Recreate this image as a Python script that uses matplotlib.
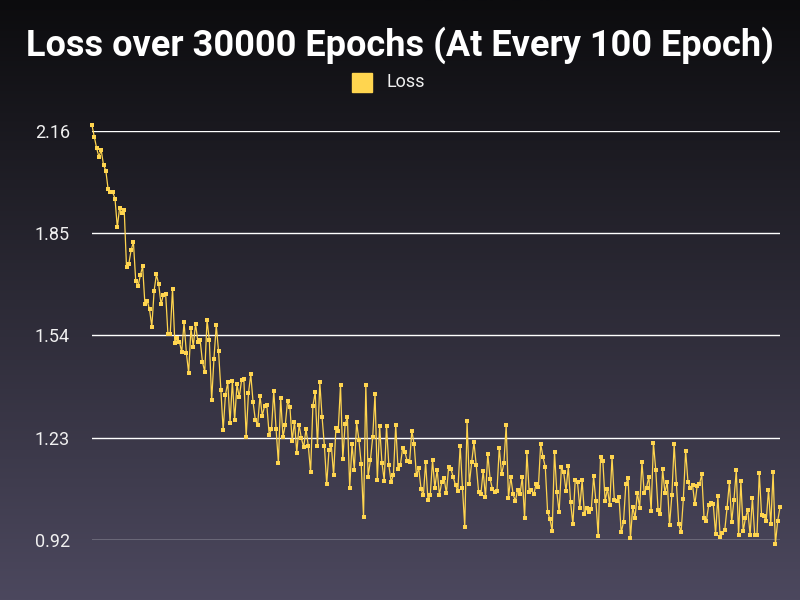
import numpy as np
import matplotlib
matplotlib.use("Agg")
import matplotlib.pyplot as plt
from matplotlib.patches import Rectangle

# Loss values, one every 100 epochs (300 points)
loss = [
    2.177, 2.142, 2.108, 2.082, 2.102, 2.057, 2.040, 1.984, 1.974, 1.974,
    1.955, 1.868, 1.927, 1.911, 1.920, 1.748, 1.757, 1.799, 1.823, 1.706,
    1.689, 1.722, 1.750, 1.635, 1.645, 1.619, 1.567, 1.676, 1.725, 1.695,
    1.635, 1.663, 1.667, 1.544, 1.545, 1.682, 1.518, 1.531, 1.521, 1.490,
    1.580, 1.488, 1.427, 1.562, 1.506,
    1.576, 1.521, 1.526, 1.460, 1.430, 1.587, 1.525, 1.343, 1.469, 1.571,
    1.492, 1.376, 1.253, 1.360, 1.398, 1.275, 1.401, 1.283, 1.392, 1.353,
    1.404, 1.408, 1.233, 1.365, 1.422, 1.338, 1.283, 1.270, 1.357, 1.297,
    1.326, 1.328, 1.239, 1.256, 1.372, 1.256, 1.154, 1.352, 1.232, 1.269,
    1.342, 1.324, 1.221, 1.279, 1.184, 1.269, 1.228, 1.201, 1.257, 1.205,
    1.126, 1.327,
    1.368, 1.205, 1.398, 1.292, 1.205, 1.089, 1.193, 1.207, 1.116, 1.259,
    1.251, 1.390, 1.165, 1.271, 1.292, 1.077, 1.211, 1.133, 1.277, 1.223,
    1.151, 0.990, 1.390, 1.112, 1.162, 1.232, 1.363, 1.101, 1.266, 1.154,
    1.100, 1.265, 1.147, 1.096, 1.118, 1.269, 1.135, 1.146, 1.199, 1.186,
    1.159, 1.155, 1.251, 1.210, 1.116, 1.137, 1.075, 1.055,
    1.156, 1.041, 1.056, 1.162, 1.078, 1.133, 1.056, 1.096, 1.109, 1.061,
    1.141, 1.135, 1.110, 1.086, 1.069, 1.206, 1.078, 0.960, 1.280, 1.090,
    1.156, 1.216, 1.146, 1.067, 1.059, 1.130, 1.049, 1.182, 1.106, 1.075,
    1.066, 1.069, 1.200, 1.119, 1.152, 1.268, 1.048, 1.111, 1.059, 1.038,
    1.072, 1.058, 1.111, 0.987, 1.186, 1.066, 1.072, 1.058,
    1.090, 1.082, 1.211, 1.172, 1.141, 1.005, 0.984, 0.947, 1.187, 1.066,
    1.004, 1.140, 1.125, 1.069, 1.143, 1.034, 0.968, 1.102, 1.095, 1.017,
    1.101, 0.998, 1.018, 1.004, 1.014, 1.113, 1.037, 0.932, 1.171, 1.160,
    1.038, 1.076, 1.026, 1.171, 1.042, 1.038, 1.051, 0.943, 0.975, 1.089,
    1.108, 0.925, 1.021, 0.986, 1.064, 1.018, 1.156, 1.061,
    1.079, 1.112, 1.008, 1.214, 1.133, 1.012, 0.998, 1.134, 1.063, 1.096,
    0.965, 1.055, 1.210, 1.089, 0.968, 0.943, 1.045, 1.191, 1.096, 1.079,
    1.086, 1.028, 1.084, 1.089, 1.119, 0.986, 0.978, 1.025, 1.032, 1.028,
    0.938, 1.052, 0.928, 0.941, 0.950, 1.018, 1.095, 0.975, 1.042, 1.131,
    0.936, 1.100, 0.946, 0.987, 1.011, 0.936, 1.047, 0.936, 0.934, 1.123,
    0.995, 0.993, 0.977, 1.072, 0.967, 1.125, 0.908, 0.978, 1.019,
]
epochs = list(range(100, 30001, 100))
y_ticks = [0.92, 1.23, 1.54, 1.85, 2.16]
y_tick_labels = ["0.92", "1.23", "1.54", "1.85", "2.16"]

line_color = "#FFD54F"

fig = plt.figure(figsize=(8, 6), dpi=100)

# fundo com gradiente vertical
bg = fig.add_axes([0, 0, 1, 1], zorder=0)
grad = np.linspace(0, 1, 256).reshape(-1, 1)
top = np.array([12, 12, 14]) / 255
bottom = np.array([76, 72, 94]) / 255
img = top + (bottom - top) * grad[..., None]
bg.imshow(img, aspect="auto", extent=[0, 1, 0, 1], origin="upper")
bg.axis("off")

ax = fig.add_axes([0.115, 0.1, 0.86, 0.6817], zorder=1)
ax.patch.set_alpha(0)
ax.plot(epochs, loss, color=line_color, linewidth=0.9, marker="s",
        markersize=2.4, markeredgewidth=0, clip_on=False, zorder=3)
ax.set_xlim(epochs[0], epochs[-1])
ax.set_ylim(y_ticks[0], y_ticks[-1])
ax.set_yticks(y_ticks)
ax.set_yticklabels(y_tick_labels, fontsize=13, color="#f0f0f0",
                   family="Roboto")
ax.set_xticks([])
ax.tick_params(axis="y", length=0, pad=16)
ax.yaxis.grid(True, color="white", linewidth=1)
ax.set_axisbelow(True)
for s in ax.spines.values():
    s.set_visible(False)

fig.text(0.5, 1 - 45 / 600, "Loss over 30000 Epochs (At Every 100 Epoch)",
         ha="center", va="center", fontsize=26, fontweight="bold",
         color="white", family="Roboto")

# legenda: quadrado amarelo + texto
fig.patches.append(Rectangle((352 / 800, 1 - 92 / 600), 20 / 800, 19 / 600,
                             transform=fig.transFigure, color=line_color))
fig.text(386 / 800, 1 - 82 / 600, "Loss", ha="left", va="center",
         fontsize=13, color="#f0f0f0", family="Roboto")

fig.savefig("out.png", dpi=100)
